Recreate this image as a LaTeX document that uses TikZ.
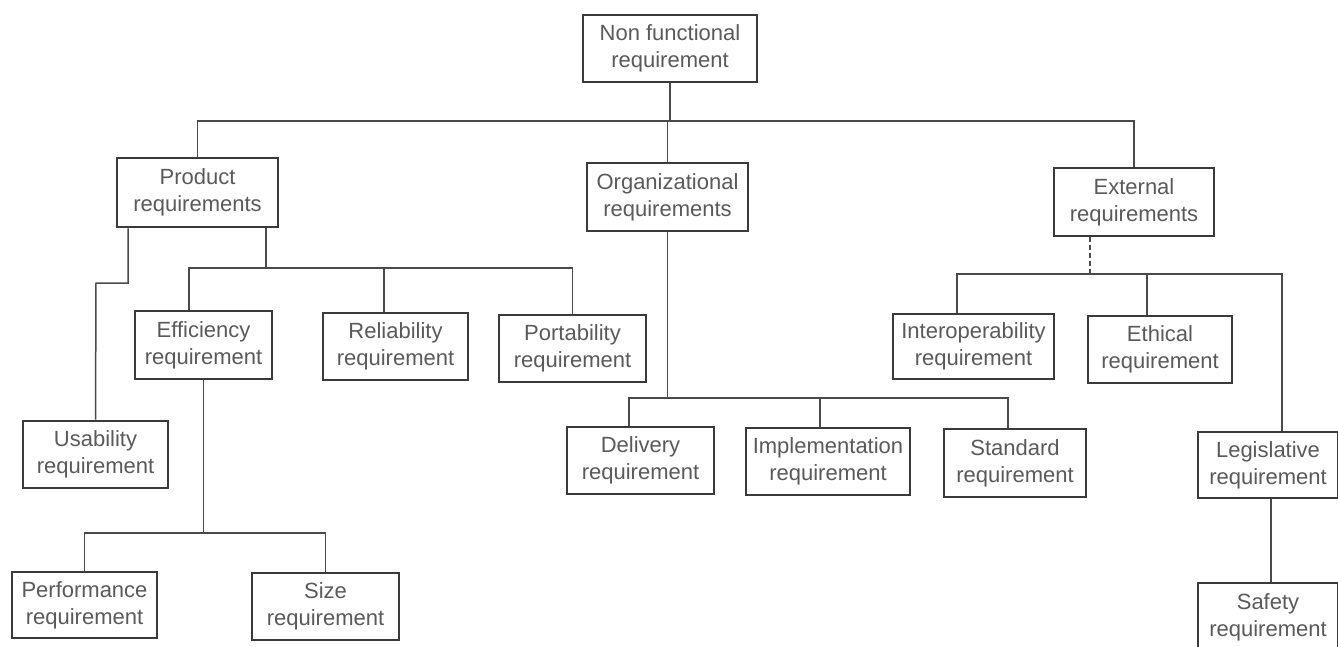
\documentclass[tikz,border=0pt]{standalone}
\usepackage{fontspec}
\setmainfont{Liberation Sans}
\usetikzlibrary{calc}
\definecolor{boxc}{HTML}{3A3A3A}
\definecolor{linec}{HTML}{4A4A4A}
\definecolor{txtc}{HTML}{5A5A5A}
\begin{document}
\begin{tikzpicture}[x=1pt,y=-1pt,
  req/.style={draw=boxc, line width=2.8pt, fill=white, align=center,
    inner sep=0pt, text=txtc, font=\fontsize{22}{27}\selectfont},
  link/.style={draw=linec, line width=1.5pt},
]
\useasboundingbox[fill=white] (0,0) rectangle (1338,647);

% boxes
\node[req, minimum width=174pt, minimum height=67pt] (nf)    at (670,48.5)   {Non functional\\requirement};
\node[req, minimum width=161pt, minimum height=69pt] (prod)  at (197.5,192.5){Product\\requirements};
\node[req, minimum width=161pt, minimum height=68pt] (org)   at (667.5,197)  {Organizational\\requirements};
\node[req, minimum width=160pt, minimum height=68pt] (ext)   at (1134,202)   {External\\requirements};
\node[req, minimum width=137pt, minimum height=68pt] (eff)   at (203.5,345)  {Efficiency\\requirement};
\node[req, minimum width=145pt, minimum height=67pt] (rel)   at (395.5,346.5){Reliability\\requirement};
\node[req, minimum width=147pt, minimum height=67pt] (port)  at (572.5,348.5){Portability\\requirement};
\node[req, minimum width=161pt, minimum height=65pt] (inter) at (973.5,346.5){Interoperability\\requirement};
\node[req, minimum width=144pt, minimum height=67pt] (eth)   at (1160,349.5) {Ethical\\requirement};
\node[req, minimum width=145pt, minimum height=67pt] (usab)  at (95.5,454.5) {Usability\\requirement};
\node[req, minimum width=147pt, minimum height=67pt] (deliv) at (640.5,460.5){Delivery\\requirement};
\node[req, minimum width=164pt, minimum height=67pt] (impl)  at (828,461.5)  {Implementation\\requirement};
\node[req, minimum width=142pt, minimum height=68pt] (std)   at (1015,463)   {Standard\\requirement};
\node[req, minimum width=140pt, minimum height=66pt] (leg)   at (1268,465)   {Legislative\\requirement};
\node[req, minimum width=145pt, minimum height=66pt] (perf)  at (84.5,605)   {Performance\\requirement};
\node[req, minimum width=147pt, minimum height=67pt] (size)  at (325.5,606.5){Size\\requirement};
\node[req, minimum width=140pt, minimum height=69pt] (safe)  at (1268,617.5) {Safety\\requirement};

% top level
\draw[link] (nf.south) -- (nf.south |- 0,121);
\draw[link] (prod.north) |- (ext.north |- 0,121) -- (ext.north);
\draw[link] (org.north) -- (org.north |- 0,121);

% product requirements
\draw[link] (prod.south -| 128,0) |- (96,283) -- (usab.north);
\draw[link] (prod.south -| 266,0) -- (266,268);
\draw[link] (eff.north -| 189,0) |- (port.north |- 0,268) -- (port.north);
\draw[link] (rel.north -| 384,0) -- (384,268);

% efficiency requirement
\draw[link] (eff.south) -- (eff.south |- 0,533);
\draw[link] (perf.north) |- (size.north |- 0,533) -- (size.north);

% organizational requirements
\draw[link] (org.south) -- (org.south |- 0,398);
\draw[link] (deliv.north -| 629,0) |- (1008,398) -- (std.north -| 1008,0);
\draw[link] (impl.north -| 820,0) -- (820,398);

% external requirements
\draw[link, dash pattern=on 5pt off 3pt] (ext.south -| 1090,0) -- (1090,274);
\draw[link] (inter.north -| 957,0) |- (1282,274) -- (leg.north -| 1282,0);
\draw[link] (eth.north -| 1147,0) -- (1147,274);
\draw[link] (leg.south -| 1271,0) -- (safe.north -| 1271,0);
\end{tikzpicture}
\end{document}
